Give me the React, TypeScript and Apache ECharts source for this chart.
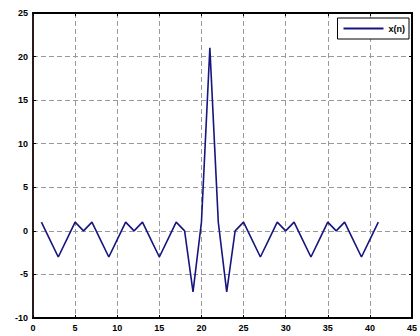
import React, { useEffect, useRef } from "react";
import * as echarts from "echarts";

const xValues = [1, 2, 3, 4, 5, 6, 7, 8, 9, 10, 11, 12, 13, 14, 15, 16, 17, 18, 19, 20, 21, 22, 23, 24, 25, 26, 27, 28, 29, 30, 31, 32, 33, 34, 35, 36, 37, 38, 39, 40, 41];
const yValues = [1, -1, -3, -1, 1, 0, 1, -1, -3, -1, 1, 0, 1, -1, -3, -1, 1, 0, -7, 1, 21, 1, -7, 0, 1, -1, -3, -1, 1, 0, 1, -1, -3, -1, 1, 0, 1, -1, -3, -1, 1];
const seriesName = "x(n)";
const xTicks = [0, 5, 10, 15, 20, 25, 30, 35, 40, 45];
const yTicks = [-10, -5, 0, 5, 10, 15, 20, 25];

export default function App() {
  const ref = useRef<HTMLDivElement>(null);
  useEffect(() => {
    if (!ref.current) return;
    const chart = echarts.init(ref.current, null, { renderer: "svg" });
    const labelStyle = {
      color: "#000",
      fontSize: 9,
      fontWeight: "bold" as const,
      fontFamily: "Liberation Sans, Arial, sans-serif",
    };
    const gridLine = { show: true, lineStyle: { color: "#9a9a9a", type: [5, 3] as any, width: 1 } };
    chart.setOption({
      animation: false,
      backgroundColor: "#fff",
      grid: {
        left: 33,
        right: 4,
        top: 13,
        bottom: 18,
        show: true,
        borderColor: "#000",
        borderWidth: 1.5,
        backgroundColor: "#fff",
      },
      legend: {
        show: true,
        right: 11,
        top: 18,
        orient: "vertical",
        backgroundColor: "#fff",
        borderColor: "#000",
        borderWidth: 1,
        borderRadius: 0,
        padding: [6, 4, 6, 6],
        itemWidth: 40,
        itemHeight: 2,
        itemGap: 4,
        icon: "rect",
        textStyle: { ...labelStyle, fontSize: 9 },
        data: [seriesName],
      },
      xAxis: [
        {
          type: "value",
          min: xTicks[0],
          max: xTicks[xTicks.length - 1],
          interval: 5,
          position: "bottom",
          axisLine: { show: true, onZero: false, lineStyle: { color: "#000", width: 2 } },
          axisTick: { show: true, inside: true, length: 3, lineStyle: { color: "#000" } },
          axisLabel: { ...labelStyle, margin: 5, showMinLabel: true, showMaxLabel: true },
          splitLine: gridLine,
        },
        {
          type: "value",
          min: xTicks[0],
          max: xTicks[xTicks.length - 1],
          interval: 5,
          position: "top",
          axisLine: { show: true, onZero: false, lineStyle: { color: "#000", width: 2 } },
          axisTick: { show: true, inside: true, length: 3, lineStyle: { color: "#000" } },
          axisLabel: { show: false },
          splitLine: { show: false },
        },
      ],
      yAxis: [
        {
          type: "value",
          min: yTicks[0],
          max: yTicks[yTicks.length - 1],
          interval: 5,
          position: "left",
          axisLine: { show: true, onZero: false, lineStyle: { color: "#2a1a1a", width: 2 } },
          axisTick: { show: true, inside: true, length: 3, lineStyle: { color: "#000" } },
          axisLabel: { ...labelStyle, margin: 5 },
          splitLine: gridLine,
        },
        {
          type: "value",
          min: yTicks[0],
          max: yTicks[yTicks.length - 1],
          interval: 5,
          position: "right",
          axisLine: { show: true, onZero: false, lineStyle: { color: "#000", width: 2 } },
          axisTick: { show: true, inside: true, length: 3, lineStyle: { color: "#000" } },
          axisLabel: { show: false },
          splitLine: { show: false },
        },
      ],
      series: [
        {
          name: seriesName,
          type: "line",
          xAxisIndex: 0,
          yAxisIndex: 0,
          data: xValues.map((x, i) => [x, yValues[i]]),
          showSymbol: false,
          symbol: "none",
          lineStyle: { color: "#16167f", width: 1.6 },
          itemStyle: { color: "#16167f" },
        },
      ],
    });
    return () => chart.dispose();
  }, []);
  return (
    <div
      ref={ref}
      style={{ position: "fixed", left: 0, top: 0, width: 420, height: 336, background: "#fff" }}
    />
  );
}
